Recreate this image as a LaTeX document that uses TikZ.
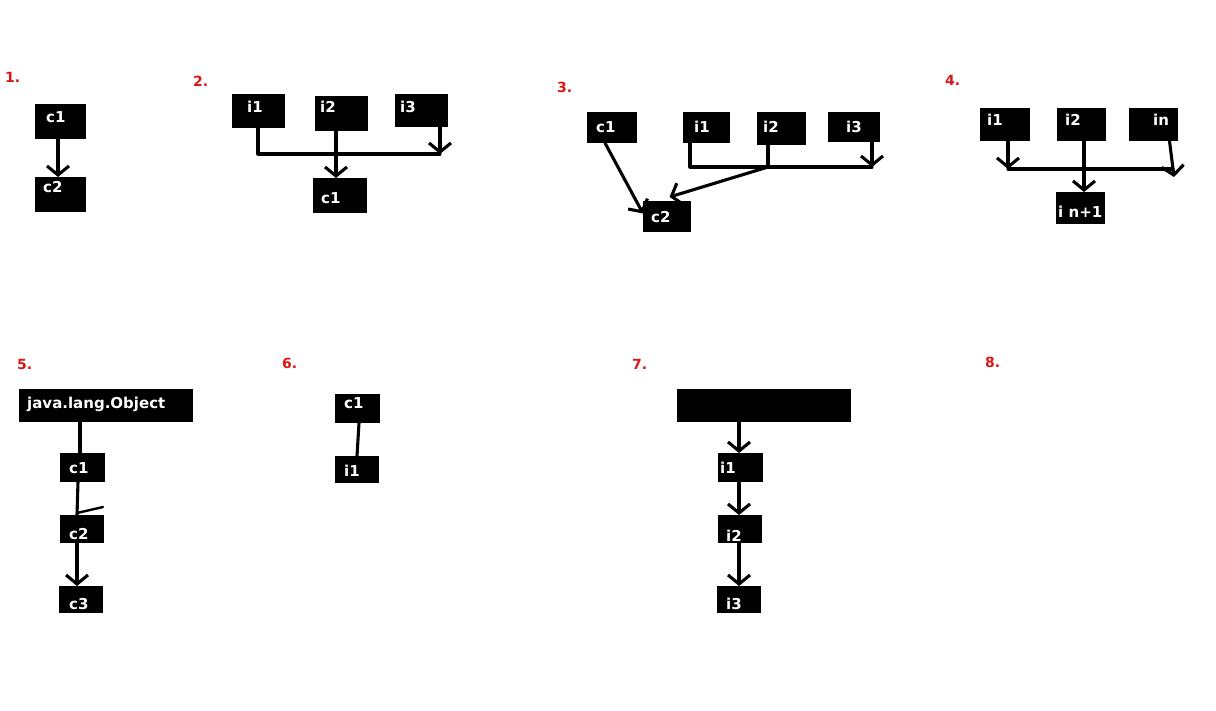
\documentclass[tikz,border=0pt]{standalone}
\usepackage{fontspec}
\setsansfont{DejaVu Sans}
\usetikzlibrary{arrows.meta,calc}
\definecolor{numred}{RGB}{218,22,22}
\tikzset{
  box/.style={rectangle,fill=black,draw=none,inner sep=0pt,outer sep=0pt,anchor=north west},
  txt/.style={text=white,font=\sffamily\bfseries\fontsize{15}{15}\selectfont,anchor=base west,inner sep=0pt},
  num/.style={text=numred,font=\sffamily\bfseries\fontsize{14}{14}\selectfont,anchor=base west,inner sep=0pt},
  conn/.style={line width=3.1pt,line cap=round,line join=round},
  arr/.style={conn,-{Straight Barb[length=9pt,width=22pt]}}
}
\newcommand\blk[5]{\node[box,minimum width={(#4)-(#2)},minimum height={(#5)-(#3)}] (#1) at (#2,#3) {};}
\begin{document}
\begin{tikzpicture}[x=1pt,y=-1pt]
\useasboundingbox (0,0) rectangle (1216,711);
\fill[white] (0,0) rectangle (1216,711);

% ---------- 1 ----------
\node[num] (n1) at (5,83) {1.};
\blk{d1c1}{35}{104}{86}{139}
\blk{d1c2}{35}{177}{86}{212}
\node[txt] (d1c1t) at (46,123) {c1};
\node[txt] (d1c2t) at (43,193) {c2};
\draw[arr] ([xshift=-2.5]d1c1.south) -- ([xshift=-2.5]d1c2.north);

% ---------- 2 ----------
\node[num] (n2) at (193,87) {2.};
\blk{d2i1}{232}{94}{285}{128}
\blk{d2i2}{315}{96}{368}{131}
\blk{d2i3}{395}{94}{448}{127}
\blk{d2c1}{313}{178}{367}{213}
\node[txt] (d2i1t) at (247,113) {i1};
\node[txt] (d2i2t) at (320,113) {i2};
\node[txt] (d2i3t) at (400,113) {i3};
\node[txt] (d2c1t) at (321,204) {c1};
\coordinate (d2bl) at (258,154);
\coordinate (d2br) at (440,154);
\coordinate (d2j) at (336,154);
\draw[conn] (d2i1.south -| d2bl) -- (d2bl) -- (d2br);
\draw[arr] (d2i3.south -| d2br) -- (d2br);
\draw[arr] (d2i2.south -| d2j) -- (d2c1.north -| d2j);

% ---------- 3 ----------
\node[num] (n3) at (557,93) {3.};
\blk{d3c1}{587}{112}{637}{143}
\blk{d3i1}{683}{112}{730}{143}
\blk{d3i2}{757}{112}{806}{145}
\blk{d3i3}{828}{112}{880}{142}
\blk{d3c2}{643}{201}{691}{232}
\node[txt] (d3c1t) at (596,133) {c1};
\node[txt] (d3i1t) at (694,133) {i1};
\node[txt] (d3i2t) at (763,133) {i2};
\node[txt] (d3i3t) at (846,133) {i3};
\node[txt] (d3c2t) at (651,223) {c2};
\coordinate (d3bl) at (690,167);
\coordinate (d3br) at (872,167);
\coordinate (d3j) at (768,167);
\draw[conn] (d3i1.south -| d3bl) -- (d3bl) -- (d3br);
\draw[arr] (d3i3.south -| d3br) -- (d3br);
\draw[conn] (d3i2.south -| d3j) -- (d3j);
\draw[arr] (d3j) -- ([xshift=2.5,yshift=4]d3c2.north);
\draw[arr] ([xshift=-7]d3c1.south) -- ([yshift=3]d3c2.west);

% ---------- 4 ----------
\node[num] (n4) at (945,86) {4.};
\blk{d4i1}{980}{108}{1030}{141}
\blk{d4i2}{1057}{108}{1106}{141}
\blk{d4in}{1129}{108}{1178}{141}
\blk{d4n}{1056}{192}{1105}{224}
\node[txt] (d4i1t) at (987,126) {i1};
\node[txt] (d4i2t) at (1065,126) {i2};
\node[txt] (d4int) at (1153,126) {in};
\node[txt] (d4nt) at (1058,218) {i n+1};
\coordinate (d4bl) at (1008,169);
\coordinate (d4br) at (1173,169);
\coordinate (d4j) at (1084,169);
\coordinate (d4ie) at (1174,177);
\draw[conn] (d4bl) -- (d4br);
\draw[arr] (d4i1.south -| d4bl) -- (d4bl);
\draw[arr] ([xshift=16]d4in.south) -- (d4ie);
\draw[arr] (d4i2.south -| d4j) -- (d4n.north -| d4j);

% ---------- 5 ----------
\node[num] (n5) at (17,370) {5.};
\blk{d5o}{19}{389}{193}{422}
\blk{d5c1}{60}{453}{105}{482}
\blk{d5c2}{60}{515}{104}{543}
\blk{d5c3}{59}{586}{103}{613}
\node[txt] (d5ot) at (27,408) {java.lang.Object};
\node[txt] (d5c1t) at (69,473) {c1};
\node[txt] (d5c2t) at (69,539) {c2};
\node[txt] (d5c3t) at (69,609) {c3};
\draw[conn] ([xshift=-2.5]d5c1.north |- d5o.south) -- ([xshift=-2.5]d5c1.north);
\draw[conn] ([xshift=-4.5]d5c1.south) -- ([xshift=-5]d5c2.north);
\draw[conn,line width=2.4pt] ($(d5c2.north)+(-5,-2)$) -- ($(d5c2.north)+(21,-8)$);
\draw[arr] ([xshift=-5]d5c2.south) -- ([xshift=-4]d5c3.north);

% ---------- 6 ----------
\node[num] (n6) at (282,369) {6.};
\blk{d6c1}{335}{394}{380}{423}
\blk{d6i1}{335}{456}{379}{483}
\node[txt] (d6c1t) at (344,408) {c1};
\node[txt] (d6i1t) at (344,476) {i1};
\draw[conn] ([xshift=1.5]d6c1.south) -- (d6i1.north);

% ---------- 7 ----------
\node[num] (n7) at (632,370) {7.};
\blk{d7o}{677}{389}{851}{422}
\blk{d7i1}{718}{453}{763}{482}
\blk{d7i2}{718}{515}{762}{543}
\blk{d7i3}{717}{586}{761}{613}
\node[txt] (d7i1t) at (720,473) {i1};
\node[txt] (d7i2t) at (726,541) {i2};
\node[txt] (d7i3t) at (726,609) {i3};
\draw[arr] ([xshift=-1.5]d7i1.north |- d7o.south) -- ([xshift=-1.5]d7i1.north);
\draw[arr] ([xshift=-1.5]d7i1.south) -- ([xshift=-1]d7i2.north);
\draw[arr] ([xshift=-1]d7i2.south) -- (d7i3.north);

% ---------- 8 ----------
\node[num] (n8) at (985,368) {8.};
\end{tikzpicture}
\end{document}
